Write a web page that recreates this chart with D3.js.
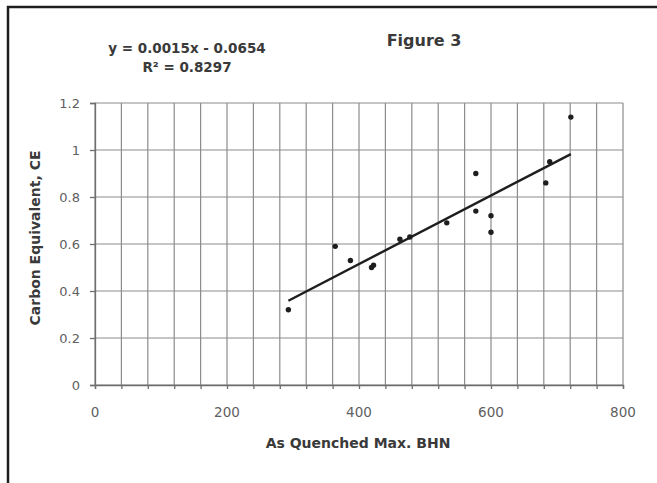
<!DOCTYPE html>
<html>
<head>
<meta charset="utf-8">
<script src="https://cdn.jsdelivr.net/npm/d3@7"></script>
<style>
  html, body { margin: 0; padding: 0; background: #ffffff; }
  svg { display: block; }
</style>
</head>
<body>
<svg id="chart"></svg>
<script>
const width = 657, height = 483

// data
const hardness = [293, 364, 387, 419, 422, 462, 477, 533, 577, 577, 600, 600, 683, 689, 721]
const carbonEq = [0.32, 0.59, 0.53, 0.50, 0.51, 0.62, 0.63, 0.69, 0.90, 0.74, 0.72, 0.65, 0.86, 0.95, 1.14]
const xTickValues = [0, 200, 400, 600, 800]
const yTickValues = [0, 0.2, 0.4, 0.6, 0.8, 1, 1.2]
const xGridStep = 40
const equationLines = ["y = 0.0015x - 0.0654", "R² = 0.8297"]

const margin = {left: 95, right: 34, top: 103, bottom: 98}

const svg = d3.select("svg#chart")
    .attr("viewBox", [0, 0, width, height])
    .attr("width", width)
    .attr("height", height)
    .style("background", "#ffffff")
    .style("font-family", "'DejaVu Sans', sans-serif")

const x = d3.scaleLinear().domain([0, 800]).range([margin.left, width - margin.right])
const y = d3.scaleLinear().domain([0, 1.2]).range([height - margin.bottom, margin.top])

// partial frame round the picture (top and left only)
svg.append("path")
    .attr("d", `M8,${height} L8,7 L${width},7`)
    .attr("fill", "none")
    .attr("stroke", "#1e1e1e")
    .attr("stroke-width", 2.5)

// grid
const grid = svg.append("g").attr("stroke", "#8c8c8c").attr("stroke-width", 1.2)
grid.selectAll("line.v")
    .data(d3.range(0, 800 + 1, xGridStep))
    .enter().append("line").attr("class", "v")
    .attr("x1", d => x(d)).attr("x2", d => x(d))
    .attr("y1", y(0)).attr("y2", y(1.2))
grid.selectAll("line.h")
    .data(yTickValues)
    .enter().append("line").attr("class", "h")
    .attr("x1", x(0)).attr("x2", x(800))
    .attr("y1", d => y(d)).attr("y2", d => y(d))

// axes
const xAxis = svg.append("g")
    .attr("transform", `translate(0, ${y(0)})`)
    .call(d3.axisBottom(x).tickValues(d3.range(0, 800 + 1, xGridStep)).tickSize(4).tickFormat(""))
const yAxis = svg.append("g")
    .attr("transform", `translate(${x(0)}, 0)`)
    .call(d3.axisLeft(y).tickValues(yTickValues).tickSize(5).tickFormat(""))
svg.selectAll(".domain, .tick line").attr("stroke", "#6e6e6e").attr("stroke-width", 1.3)

svg.append("g").selectAll("text")
    .data(xTickValues)
    .enter().append("text")
    .attr("x", d => x(d))
    .attr("y", y(0) + 32)
    .attr("text-anchor", "middle")
    .attr("font-size", 13.5)
    .attr("fill", "#606060")
    .text(d => d)

svg.append("g").selectAll("text")
    .data(yTickValues)
    .enter().append("text")
    .attr("x", x(0) - 15)
    .attr("y", d => y(d) + 4.7)
    .attr("text-anchor", "end")
    .attr("font-size", 13)
    .attr("fill", "#606060")
    .text(d => d)

// axis titles
svg.append("text")
    .attr("x", 358)
    .attr("y", 448)
    .attr("text-anchor", "middle")
    .attr("font-size", 14)
    .attr("font-weight", "bold")
    .attr("fill", "#3a3a3a")
    .text("As Quenched Max. BHN")

svg.append("text")
    .attr("transform", "translate(40, 238) rotate(-90)")
    .attr("text-anchor", "middle")
    .attr("font-size", 14)
    .attr("font-weight", "bold")
    .attr("fill", "#3a3a3a")
    .text("Carbon Equivalent, CE")

svg.append("text")
    .attr("x", 424)
    .attr("y", 46)
    .attr("text-anchor", "middle")
    .attr("font-size", 16)
    .attr("font-weight", "bold")
    .attr("fill", "#3a3a3a")
    .text("Figure 3")

svg.append("g").selectAll("text")
    .data(equationLines)
    .enter().append("text")
    .attr("x", 187)
    .attr("y", (d, i) => 53 + i * 18.5)
    .attr("text-anchor", "middle")
    .attr("font-size", 13.5)
    .attr("font-weight", "bold")
    .attr("fill", "#3a3a3a")
    .text(d => d)

// least-squares trend line over the data range
const points = hardness.map((h, i) => ({h: h, ce: carbonEq[i]}))
const mx = d3.mean(hardness), my = d3.mean(carbonEq)
const slope = d3.sum(points, p => (p.h - mx) * (p.ce - my)) / d3.sum(points, p => (p.h - mx) ** 2)
const intercept = my - slope * mx
const [xmin, xmax] = d3.extent(hardness)

svg.append("line")
    .attr("x1", x(xmin)).attr("y1", y(slope * xmin + intercept))
    .attr("x2", x(xmax)).attr("y2", y(slope * xmax + intercept))
    .attr("stroke", "#1e1e1e")
    .attr("stroke-width", 2.4)

svg.append("g").selectAll("circle")
    .data(points)
    .enter().append("circle")
    .attr("cx", d => x(d.h))
    .attr("cy", d => y(d.ce))
    .attr("r", 2.7)
    .attr("fill", "#1e1e1e")
</script>
</body>
</html>
